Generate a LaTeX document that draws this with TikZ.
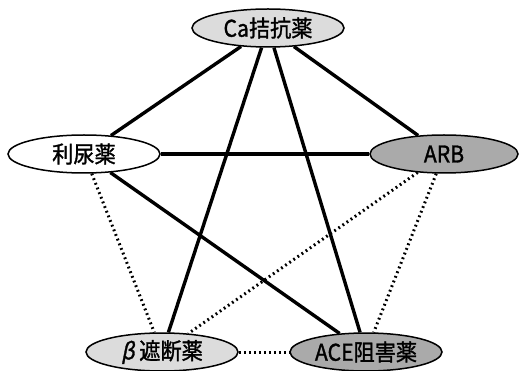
\documentclass[tikz,border=0pt]{standalone}
\usepackage{fontspec}
\setmainfont{Noto Sans CJK JP}[FakeStretch=0.92,FakeBold=1.3]
\newfontfamily\slgrk{Noto Sans CJK JP}[FakeSlant=0.2,FakeStretch=0.92,FakeBold=1.3]
\usetikzlibrary{shapes.geometric}
\definecolor{lightg}{HTML}{DCDCDC}
\definecolor{darkg}{HTML}{AAAAAA}
\tikzset{
  drug/.style={ellipse, draw=black, line width=1.5pt, minimum width=152pt, minimum height=38pt, inner sep=0pt, font=\fontsize{23}{23}\selectfont},
  solidlink/.style={line width=3.4pt},
  dotlink/.style={line width=3pt, dash pattern=on 1.8pt off 3.2pt}
}
\begin{document}
\begin{tikzpicture}[x=1pt,y=-1pt]
\useasboundingbox (0,0) rectangle (519,371);
\node[drug, fill=lightg] (ca) at (268,28) {Ca拮抗薬};
\node[drug, fill=white] (diu) at (84,154) {利尿薬};
\node[drug, fill=darkg, minimum width=148pt] (arb) at (444,154) {ARB};
\node[drug, fill=lightg] (beta) at (162,352) {{\slgrk β} 遮断薬};
\node[drug, fill=darkg] (ace) at (366,352) {ACE阻害薬};
\draw[solidlink] (ca) -- (diu);
\draw[solidlink] (ca) -- (arb);
\draw[solidlink] (ca) -- (beta);
\draw[solidlink] (ca) -- (ace);
\draw[solidlink] (diu) -- (arb);
\draw[solidlink] (diu) -- (ace);
\draw[dotlink] (diu) -- (beta);
\draw[dotlink] (arb) -- (beta);
\draw[dotlink] (arb) -- (ace);
\draw[dotlink] (beta) -- (ace);
\end{tikzpicture}
\end{document}
